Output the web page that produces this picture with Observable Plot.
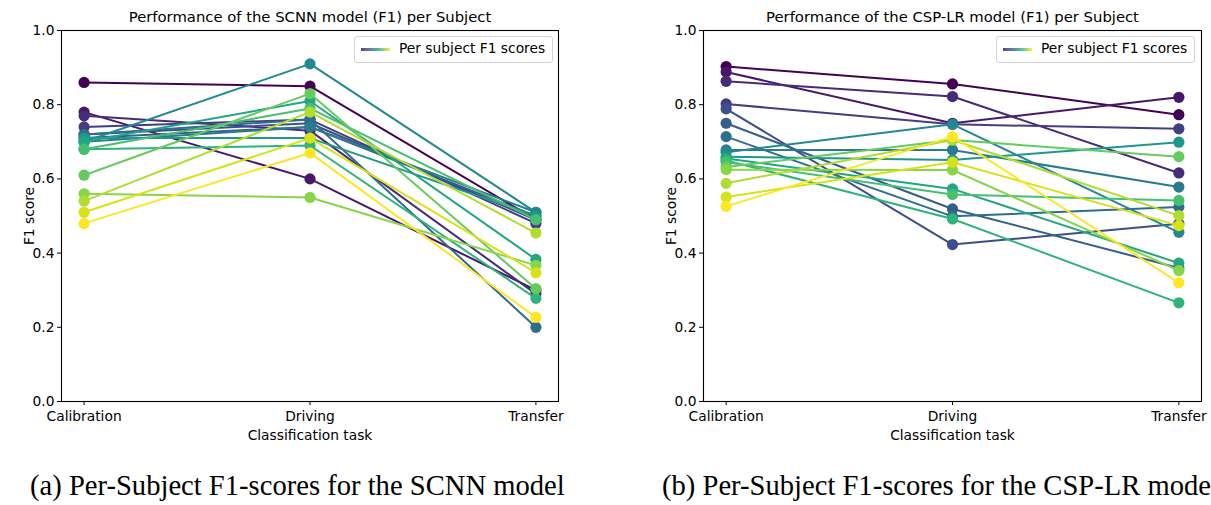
<!DOCTYPE html>
<html>
<head>
<meta charset="utf-8">
<script src="https://cdn.jsdelivr.net/npm/d3@7"></script>
<script src="https://cdn.jsdelivr.net/npm/@observablehq/plot@0.6"></script>
<style>
  html, body { margin: 0; padding: 0; background: #fff; overflow: hidden; }
  #wrap { position: relative; width: 1211px; height: 505px; overflow: hidden; font-family: "DejaVu Sans", sans-serif; }
  .panel { position: absolute; top: 0; }
  .legend { position: absolute; top: 36px; width: 197px; height: 25px; border: 1px solid #d4d4d4; border-radius: 3px; background: rgba(255,255,255,0.85); font-size: 13.8px; color: #000; }
  .legend .sw { position: absolute; left: 6px; top: 11px; width: 29px; height: 3px; }
  .legend .tx { position: absolute; left: 44px; top: 3px; white-space: nowrap; }
  .caption { position: absolute; top: 470px; font-family: "Liberation Serif", "Times New Roman", serif; font-size: 28.6px; white-space: nowrap; color: #000; }
</style>
</head>
<body>
<div id="wrap"></div>
<script>
// ---- data ----
const tasks = ["Calibration", "Driving", "Transfer"];
const yTicks = [0.0, 0.2, 0.4, 0.6, 0.8, 1.0];

const scnnCalibration = [0.86, 0.78, 0.77, 0.74, 0.72, 0.71, 0.72, 0.70, 0.70, 0.71, 0.70, 0.68, 0.68, 0.61, 0.56, 0.54, 0.51, 0.48];
const scnnDriving     = [0.85, 0.60, 0.73, 0.76, 0.75, 0.74, 0.76, 0.74, 0.91, 0.71, 0.81, 0.69, 0.79, 0.83, 0.55, 0.78, 0.71, 0.67];
const scnnTransfer    = [0.49, 0.30, 0.29, 0.48, 0.49, 0.50, 0.20, 0.51, 0.51, 0.50, 0.383, 0.278, 0.49, 0.304, 0.367, 0.454, 0.347, 0.227];

const cspCalibration = [0.903, 0.888, 0.863, 0.802, 0.789, 0.750, 0.714, 0.678, 0.672, 0.660, 0.655, 0.650, 0.645, 0.632, 0.625, 0.588, 0.551, 0.526];
const cspDriving     = [0.856, 0.750, 0.822, 0.747, 0.423, 0.519, 0.499, 0.678, 0.747, 0.651, 0.573, 0.492, 0.558, 0.705, 0.624, 0.705, 0.645, 0.714];
const cspTransfer    = [0.773, 0.820, 0.616, 0.735, 0.479, 0.360, 0.524, 0.578, 0.456, 0.699, 0.373, 0.266, 0.542, 0.660, 0.353, 0.501, 0.474, 0.320];

const titles = ["Performance of the SCNN model (F1) per Subject", "Performance of the CSP-LR model (F1) per Subject"];
const captions = ["(a) Per-Subject F1-scores for the SCNN model", "(b) Per-Subject F1-scores for the CSP-LR model"];
const legendLabel = "Per subject F1 scores";

// ---- build ----
function rowsFrom(cal, drv, trf) {
  const rows = [];
  cal.forEach((_, i) => {
    [cal[i], drv[i], trf[i]].forEach((v, t) => rows.push({subject: i, task: t, f1: v}));
  });
  return rows;
}

function makePlot(rows, title, opts) {
  const n = d3.max(rows, d => d.subject) + 1;
  const marks = [];
  for (let i = 0; i < n; i++) {
    const sub = rows.filter(d => d.subject === i);
    marks.push(Plot.line(sub, {x: "task", y: "f1", stroke: "subject", strokeWidth: 2}));
    marks.push(Plot.dot(sub, {x: "task", y: "f1", fill: "subject", r: 5.6}));
  }
  return Plot.plot({
    width: opts.width,
    height: 450,
    marginLeft: opts.marginLeft,
    marginRight: opts.marginRight,
    marginTop: 30,
    marginBottom: 49,
    style: {fontFamily: "DejaVu Sans, sans-serif", fontSize: "13.8px", color: "#000", background: "transparent"},
    x: {type: "linear", domain: [-0.1, 2.1]},
    y: {domain: [0, 1]},
    color: {type: "linear", scheme: "viridis", domain: [0, n - 1]},
    marks: [
      Plot.axisX({ticks: [0, 1, 2], tickFormat: i => tasks[i], tickSize: 4, tickPadding: 6,
        label: "Classification task", labelAnchor: "center", labelArrow: "none", labelOffset: 38}),
      Plot.axisY({ticks: yTicks, tickFormat: d3.format(".1f"), tickSize: 4, tickPadding: 3,
        label: "F1 score", labelAnchor: "center", labelArrow: "none", labelOffset: 37}),
      ...marks,
      Plot.frame({stroke: "#000", strokeWidth: 1.1}),
      Plot.text([title], {frameAnchor: "top", lineAnchor: "bottom", dy: -9, fontSize: 14.8})
    ]
  });
}

const wrap = document.getElementById("wrap");
const panels = [
  {rows: rowsFrom(scnnCalibration, scnnDriving, scnnTransfer), left: 0, width: 600, marginLeft: 61, marginRight: 42, legendLeft: 354, capLeft: 30},
  {rows: rowsFrom(cspCalibration, cspDriving, cspTransfer), left: 640, width: 571, marginLeft: 63, marginRight: 10, legendLeft: 996, capLeft: 662}
];
panels.forEach((p, k) => {
  const div = document.createElement("div");
  div.className = "panel";
  div.style.left = p.left + "px";
  div.appendChild(makePlot(p.rows, titles[k], p));
  wrap.appendChild(div);

  const lg = document.createElement("div");
  lg.className = "legend";
  lg.style.left = p.legendLeft + "px";
  const stops = d3.range(0, 1.0001, 0.1).map(t => d3.interpolateViridis(t)).join(",");
  lg.innerHTML = `<span class="sw" style="background:linear-gradient(to right, ${stops}); opacity:0.8"></span><span class="tx">${legendLabel}</span>`;
  wrap.appendChild(lg);

  const cap = document.createElement("div");
  cap.className = "caption";
  cap.style.left = p.capLeft + "px";
  cap.textContent = captions[k];
  wrap.appendChild(cap);
});
</script>
</body>
</html>
